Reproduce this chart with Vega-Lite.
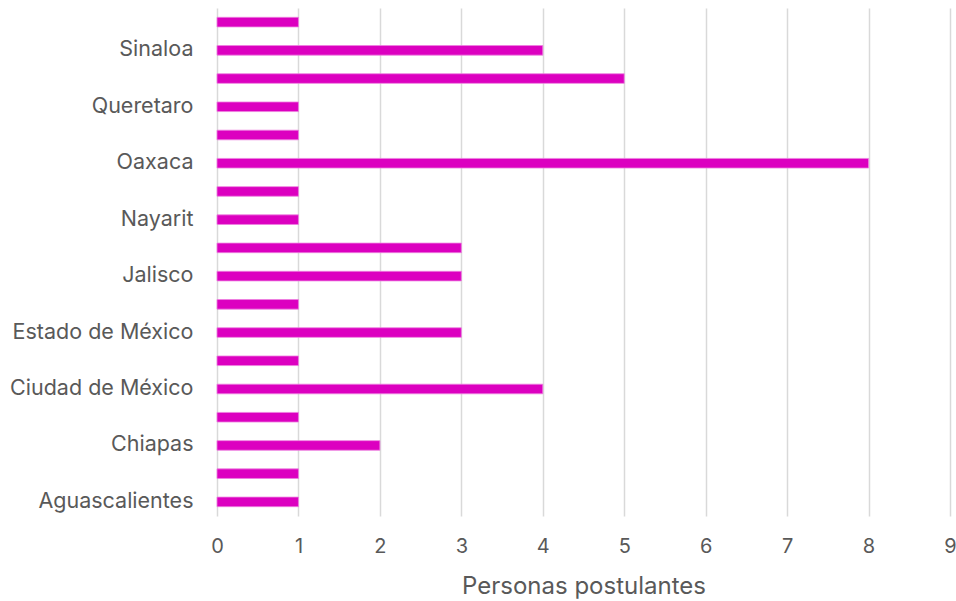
{
  "$schema": "https://vega.github.io/schema/vega-lite/v6.json",
  "width": 733,
  "height": 508,
  "autosize": {"type": "none"},
  "padding": {"left": 217, "top": 8, "right": 6, "bottom": 85},
  "background": "white",
  "config": {
    "view": {"stroke": null},
    "font": "Inter"
  },
  "data": {
    "values": [
      {"estado": "Veracruz", "personas": 1},
      {"estado": "Sinaloa", "personas": 4},
      {"estado": "San Luis Potosí", "personas": 5},
      {"estado": "Queretaro", "personas": 1},
      {"estado": "Puebla", "personas": 1},
      {"estado": "Oaxaca", "personas": 8},
      {"estado": "Nuevo León", "personas": 1},
      {"estado": "Nayarit", "personas": 1},
      {"estado": "Michoacán", "personas": 3},
      {"estado": "Jalisco", "personas": 3},
      {"estado": "Guanajuato", "personas": 1},
      {"estado": "Estado de México", "personas": 3},
      {"estado": "Coahuila", "personas": 1},
      {"estado": "Ciudad de México", "personas": 4},
      {"estado": "Chihuahua", "personas": 1},
      {"estado": "Chiapas", "personas": 2},
      {"estado": "Baja California", "personas": 1},
      {"estado": "Aguascalientes", "personas": 1}
    ]
  },
  "mark": {"type": "bar", "color": "#DC00C0", "stroke": "#EE80DF", "strokeWidth": 0.8},
  "encoding": {
    "y": {
      "field": "estado",
      "type": "nominal",
      "sort": null,
      "scale": {"paddingInner": 0.66, "paddingOuter": 0.33},
      "axis": {
        "title": null,
        "values": ["Sinaloa", "Queretaro", "Oaxaca", "Nayarit", "Jalisco", "Estado de México", "Ciudad de México", "Chiapas", "Aguascalientes"],
        "ticks": false,
        "domain": false,
        "labelFontSize": 21.5,
        "labelColor": "#595959",
        "labelPadding": 24,
        "labelOverlap": false,
        "labelLimit": 400
      }
    },
    "x": {
      "field": "personas",
      "type": "quantitative",
      "scale": {"domain": [0, 9], "nice": false},
      "axis": {
        "title": "Personas postulantes",
        "values": [0, 1, 2, 3, 4, 5, 6, 7, 8, 9],
        "grid": true,
        "gridColor": "#D9D9D9",
        "gridWidth": 1.5,
        "ticks": false,
        "domain": false,
        "labelFontSize": 20,
        "labelColor": "#595959",
        "labelPadding": 20,
        "labelOverlap": false,
        "labelFlush": false,
        "titleFontSize": 24,
        "titleFontWeight": "normal",
        "titleColor": "#595959",
        "titlePadding": 18
      }
    }
  }
}
